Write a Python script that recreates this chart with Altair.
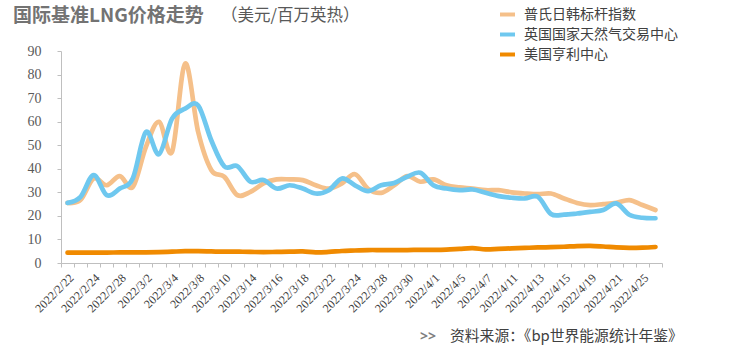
import json
import altair as alt
import pandas as pd

dates = [
    "2022/2/22", "2022/2/23", "2022/2/24", "2022/2/25", "2022/2/28",
    "2022/3/1", "2022/3/2", "2022/3/3", "2022/3/4", "2022/3/7", "2022/3/8",
    "2022/3/9", "2022/3/10", "2022/3/11", "2022/3/14", "2022/3/15", "2022/3/16",
    "2022/3/17", "2022/3/18", "2022/3/21", "2022/3/22", "2022/3/23", "2022/3/24",
    "2022/3/25", "2022/3/28", "2022/3/29", "2022/3/30", "2022/3/31", "2022/4/1",
    "2022/4/4", "2022/4/5", "2022/4/6", "2022/4/7", "2022/4/8", "2022/4/11",
    "2022/4/12", "2022/4/13", "2022/4/14", "2022/4/15", "2022/4/18", "2022/4/19",
    "2022/4/20", "2022/4/21", "2022/4/22", "2022/4/25", "2022/4/26",
]
label_dates = dates[::2]

jkm = [25.5, 26.8, 35.9, 33.0, 36.9, 32.3, 49.3, 59.9, 47.2, 84.6, 55.6, 39.5,
       36.6, 28.8, 30.2, 33.8, 35.5, 35.5, 35.2, 33.0, 31.6, 33.8, 37.7, 31.5,
       29.8, 33.0, 36.9, 34.5, 35.5, 33.0, 32.1, 31.6, 30.9, 30.9, 30.0, 29.5,
       29.2, 29.5, 27.4, 25.5, 24.6, 25.0, 25.5, 26.7, 24.6, 22.5]
nbp = [25.5, 28.1, 37.3, 28.8, 31.6, 36.0, 55.6, 46.2, 61.3, 65.5, 66.9, 52.1,
       41.0, 41.1, 34.5, 35.2, 31.6, 33.0, 31.6, 29.5, 30.9, 35.9, 33.0, 30.5,
       33.0, 34.0, 36.6, 38.3, 33.0, 31.6, 30.9, 31.2, 29.8, 28.4, 27.7, 27.4,
       28.1, 20.8, 20.5, 21.0, 21.7, 22.5, 25.3, 20.5, 19.2, 19.0]
hh = [4.4, 4.4, 4.4, 4.4, 4.5, 4.5, 4.5, 4.6, 4.8, 5.0, 5.0, 4.9,
      4.8, 4.8, 4.7, 4.6, 4.7, 4.8, 4.9, 4.5, 4.7, 5.1, 5.3, 5.5,
      5.5, 5.5, 5.5, 5.6, 5.6, 5.7, 6.0, 6.3, 5.8, 6.0, 6.2, 6.4,
      6.6, 6.7, 6.9, 7.2, 7.3, 7.0, 6.6, 6.4, 6.5, 6.8]

series_names = ["普氏日韩标杆指数", "英国国家天然气交易中心", "美国亨利中心"]
series_colors = ["#F5C08A", "#6FC8EF", "#F08A00"]
y_ticks = list(range(0, 91, 10))

title_text = "国际基准LNG价格走势"
unit_text = "（美元/百万英热）"
source_mark = ">>"
source_text = "资料来源：《bp世界能源统计年鉴》"

rows = []
for name, vals in zip(series_names, [jkm, nbp, hh]):
    for d, v in zip(dates, vals):
        rows.append({"date": d, "value": v, "series": name})
df = pd.DataFrame(rows)

axis_gray = "#BFBFBF"
label_expr = "indexof(" + json.dumps(label_dates, ensure_ascii=False) + ", datum.value) >= 0 ? datum.value : ''"

lines = alt.Chart(df).mark_line(interpolate="cardinal", strokeCap="round", strokeWidth=4.7).encode(
    x=alt.X(
        "date:O",
        sort=dates,
        bandPosition=0.5,
        scale=alt.Scale(type="band", paddingInner=0, paddingOuter=0),
        axis=alt.Axis(
            title=None,
            tickBand="extent",
            labelAngle=-45,
            labelExpr=label_expr,
            labelOverlap=False,
            labelFont="Liberation Serif",
            labelFontSize=12,
            labelColor="#404040",
            labelPadding=5,
            tickSize=4,
            tickColor=axis_gray,
            domainColor=axis_gray,
            grid=False,
        ),
    ),
    y=alt.Y(
        "value:Q",
        scale=alt.Scale(domain=[0, 90], nice=False),
        axis=alt.Axis(
            title=None,
            values=y_ticks,
            grid=False,
            tickSize=4,
            tickColor=axis_gray,
            domainColor=axis_gray,
            labelFont="Liberation Serif",
            labelFontSize=14,
            labelColor="#595959",
            labelPadding=16,
        ),
    ),
    color=alt.Color(
        "series:N",
        sort=series_names,
        scale=alt.Scale(domain=series_names, range=series_colors),
        legend=alt.Legend(
            title=None,
            orient="none",
            legendX=437,
            legendY=-46,
            symbolType="stroke",
            symbolStrokeWidth=4,
            symbolSize=225,
            labelFont="Noto Sans CJK SC",
            labelFontSize=14,
            labelColor="#404040",
            rowPadding=2,
            labelOffset=7,
        ),
    ),
)

title = alt.Chart(alt.Data(values=[{"t": title_text}])).mark_text(
    align="left", baseline="middle", font="Noto Sans CJK SC", fontSize=19,
    fontWeight="bold", color="#737373",
).encode(x=alt.value(-48), y=alt.value(-35), text="t:N")

unit = alt.Chart(alt.Data(values=[{"t": unit_text}])).mark_text(
    align="left", baseline="middle", font="Noto Sans CJK SC", fontSize=16.5,
    color="#595959",
).encode(x=alt.value(160), y=alt.value(-35), text="t:N")

src_mark = alt.Chart(alt.Data(values=[{"t": source_mark}])).mark_text(
    align="left", baseline="middle", font="Noto Sans", fontSize=14,
    fontWeight="bold", color="#7F7F7F",
).encode(x=alt.value(359), y=alt.value(286), text="t:N")

src = alt.Chart(alt.Data(values=[{"t": source_text}])).mark_text(
    align="left", baseline="middle", font="Noto Sans CJK SC", fontSize=14.8,
    color="#404040",
).encode(x=alt.value(389), y=alt.value(286), text="t:N")

chart = alt.layer(lines, title, unit, src_mark, src).properties(
    width=601,
    height=212,
    padding={"left": 61, "top": 51, "right": 80, "bottom": 85},
    autosize=alt.AutoSizeParams(type="none"),
    background="white",
).configure_view(strokeWidth=0)

chart.save("out.html", embed_options={"renderer": "svg", "actions": False})
